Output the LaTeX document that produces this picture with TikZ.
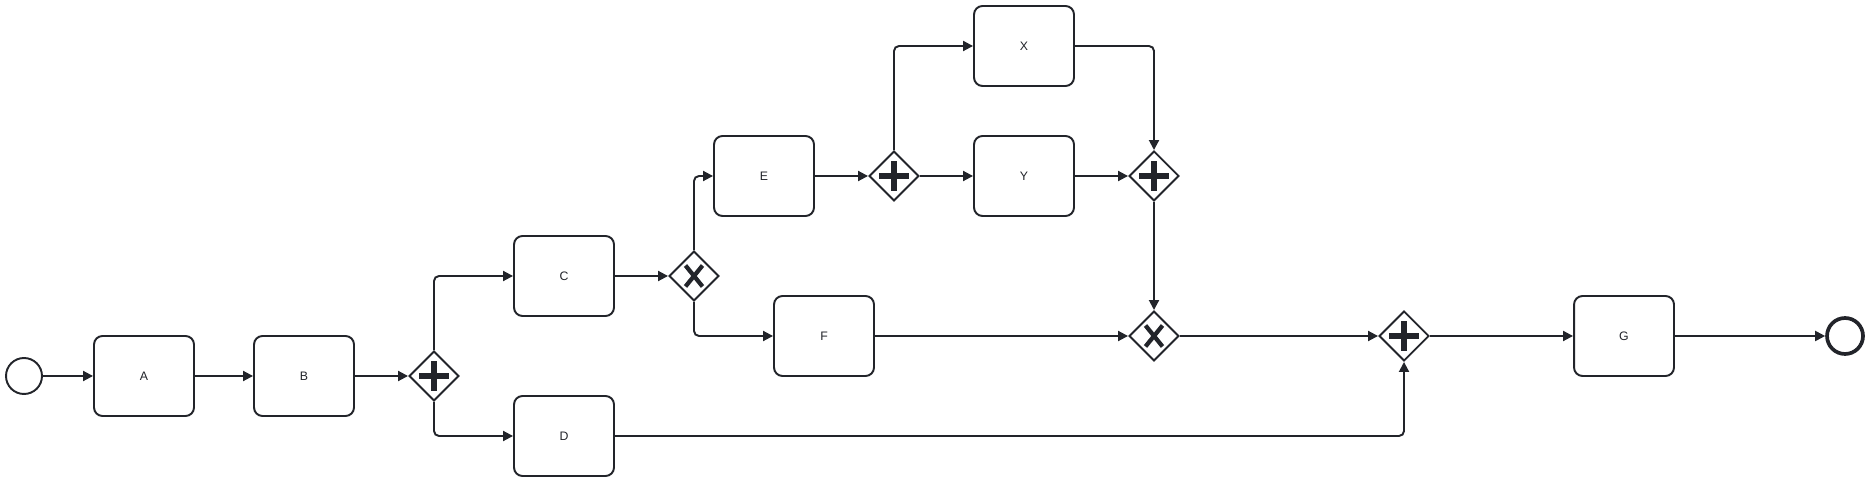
\documentclass[tikz,border=0pt]{standalone}
\usepackage{fontspec}
\setmainfont{Liberation Sans}
\usepackage{tikz}
\usetikzlibrary{shapes.geometric, arrows.meta, positioning, calc}
\definecolor{bpmnink}{RGB}{34,36,42}
\tikzset{
  task/.style={rectangle, draw=bpmnink, fill=white, text=bpmnink,
    minimum width=2cm, minimum height=1.6cm, rounded corners=0.17cm,
    line width=1.1pt, font=\fontsize{7}{8}\selectfont},
  gate/.style={diamond, draw=bpmnink, fill=white, inner sep=0pt,
    minimum width=1cm, minimum height=1cm, line width=1.1pt},
  andgate/.style={gate, path picture={
    \fill[bpmnink] ($(path picture bounding box.center)+(-0.3cm,-0.06cm)$)
      rectangle ($(path picture bounding box.center)+(0.3cm,0.06cm)$);
    \fill[bpmnink] ($(path picture bounding box.center)+(-0.06cm,-0.3cm)$)
      rectangle ($(path picture bounding box.center)+(0.06cm,0.3cm)$);}},
  xorgate/.style={gate, path picture={
    \draw[bpmnink, line width=0.085cm]
      ($(path picture bounding box.center)+(-0.17cm,0.21cm)$) --
      ($(path picture bounding box.center)+(0.17cm,-0.21cm)$)
      ($(path picture bounding box.center)+(-0.17cm,-0.21cm)$) --
      ($(path picture bounding box.center)+(0.17cm,0.21cm)$);}},
  event/.style={circle, draw=bpmnink, fill=white, inner sep=0pt,
    minimum size=0.72cm, line width=1.1pt},
  endevent/.style={event, line width=2.1pt},
  flow/.style={-{Triangle[length=0.2cm, width=0.2cm]}, line width=1.1pt,
    color=bpmnink, rounded corners=0.1cm}
}
\begin{document}
\begin{tikzpicture}[x=0.02cm, y=-0.02cm]
  \useasboundingbox (0,0) rectangle (1868,482);

  % events and tasks
  \node[event] (start) at (24,376) {};
  \node[task] (a) at (144,376) {A};
  \node[task] (b) at (304,376) {B};
  \node[andgate] (p1) at (434,376) {};
  \node[task] (c) at (564,276) {C};
  \node[task] (d) at (564,436) {D};
  \node[xorgate] (x1) at (694,276) {};
  \node[task] (e) at (764,176) {E};
  \node[task] (f) at (824,336) {F};
  \node[andgate] (p2) at (894,176) {};
  \node[task] (tx) at (1024,46) {X};
  \node[task] (ty) at (1024,176) {Y};
  \node[andgate] (p3) at (1154,176) {};
  \node[xorgate] (x2) at (1154,336) {};
  \node[andgate] (p4) at (1404,336) {};
  \node[task] (g) at (1624,336) {G};
  \node[endevent] (stop) at (1845,336) {};

  % sequence flows
  \draw[flow] (start) -- (a);
  \draw[flow] (a) -- (b);
  \draw[flow] (b) -- (p1);
  \draw[flow] (p1.north) |- (c);
  \draw[flow] (p1.south) |- (d);
  \draw[flow] (c) -- (x1);
  \draw[flow] (x1.north) |- (e);
  \draw[flow] (x1.south) |- (f);
  \draw[flow] (e) -- (p2);
  \draw[flow] (p2.north) |- (tx);
  \draw[flow] (p2) -- (ty);
  \draw[flow] (tx.east) -| (p3.north);
  \draw[flow] (ty) -- (p3);
  \draw[flow] (p3.south) -- (x2.north);
  \draw[flow] (f) -- (x2);
  \draw[flow] (x2) -- (p4);
  \draw[flow] (d.east) -| (p4.south);
  \draw[flow] (p4) -- (g);
  \draw[flow] (g) -- (stop);
\end{tikzpicture}
\end{document}
